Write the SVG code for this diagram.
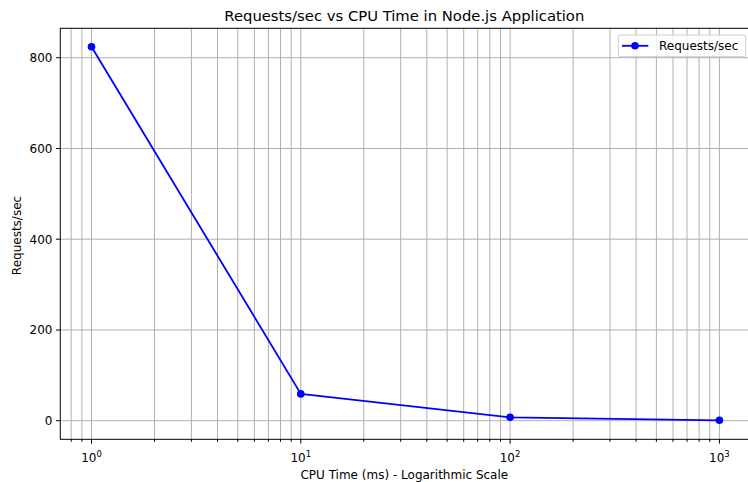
<svg xmlns="http://www.w3.org/2000/svg" width="748" height="482" viewBox="0 0 748 482">
  <style>
    text { font-family: "DejaVu Sans", "Liberation Sans", sans-serif; fill: #000; }
    .tick { font-size: 12px; }
    .grid line { stroke: #b0b0b0; stroke-width: 1; }
    .ticks line { stroke: #000; stroke-width: 1; }
    .spine { stroke: #000; stroke-width: 1; fill: none; }
    .series { stroke: #0000ff; stroke-width: 1.8; fill: none; stroke-linejoin: round; }
    .dot { fill: #0000ff; }
  </style>
  <rect width="748" height="482" fill="#fff"/>

  <!-- grid: log-scale vertical lines, major and minor -->
  <g class="grid">
    <line x1="71.2" y1="28.3" x2="71.2" y2="439.3"/>
    <line x1="81.9" y1="28.3" x2="81.9" y2="439.3"/>
    <line x1="91.5" y1="28.3" x2="91.5" y2="439.3"/>
    <line x1="154.5" y1="28.3" x2="154.5" y2="439.3"/>
    <line x1="191.4" y1="28.3" x2="191.4" y2="439.3"/>
    <line x1="217.5" y1="28.3" x2="217.5" y2="439.3"/>
    <line x1="237.8" y1="28.3" x2="237.8" y2="439.3"/>
    <line x1="254.4" y1="28.3" x2="254.4" y2="439.3"/>
    <line x1="268.4" y1="28.3" x2="268.4" y2="439.3"/>
    <line x1="280.5" y1="28.3" x2="280.5" y2="439.3"/>
    <line x1="291.2" y1="28.3" x2="291.2" y2="439.3"/>
    <line x1="300.8" y1="28.3" x2="300.8" y2="439.3"/>
    <line x1="363.8" y1="28.3" x2="363.8" y2="439.3"/>
    <line x1="400.7" y1="28.3" x2="400.7" y2="439.3"/>
    <line x1="426.8" y1="28.3" x2="426.8" y2="439.3"/>
    <line x1="447.1" y1="28.3" x2="447.1" y2="439.3"/>
    <line x1="463.7" y1="28.3" x2="463.7" y2="439.3"/>
    <line x1="477.7" y1="28.3" x2="477.7" y2="439.3"/>
    <line x1="489.8" y1="28.3" x2="489.8" y2="439.3"/>
    <line x1="500.5" y1="28.3" x2="500.5" y2="439.3"/>
    <line x1="510.1" y1="28.3" x2="510.1" y2="439.3"/>
    <line x1="573.1" y1="28.3" x2="573.1" y2="439.3"/>
    <line x1="610.0" y1="28.3" x2="610.0" y2="439.3"/>
    <line x1="636.1" y1="28.3" x2="636.1" y2="439.3"/>
    <line x1="656.4" y1="28.3" x2="656.4" y2="439.3"/>
    <line x1="673.0" y1="28.3" x2="673.0" y2="439.3"/>
    <line x1="687.0" y1="28.3" x2="687.0" y2="439.3"/>
    <line x1="699.1" y1="28.3" x2="699.1" y2="439.3"/>
    <line x1="709.8" y1="28.3" x2="709.8" y2="439.3"/>
    <line x1="719.4" y1="28.3" x2="719.4" y2="439.3"/>
    <!-- horizontal lines at 0..800 -->
    <line x1="60.3" y1="420.7" x2="751" y2="420.7"/>
    <line x1="60.3" y1="330.0" x2="751" y2="330.0"/>
    <line x1="60.3" y1="239.2" x2="751" y2="239.2"/>
    <line x1="60.3" y1="148.5" x2="751" y2="148.5"/>
    <line x1="60.3" y1="57.7" x2="751" y2="57.7"/>
  </g>

  <!-- tick marks -->
  <g class="ticks">
    <line x1="91.5" y1="439.3" x2="91.5" y2="443.6"/>
    <line x1="300.8" y1="439.3" x2="300.8" y2="443.6"/>
    <line x1="510.1" y1="439.3" x2="510.1" y2="443.6"/>
    <line x1="719.4" y1="439.3" x2="719.4" y2="443.6"/>
    <line x1="71.2" y1="439.3" x2="71.2" y2="441.8"/>
    <line x1="81.9" y1="439.3" x2="81.9" y2="441.8"/>
    <line x1="154.5" y1="439.3" x2="154.5" y2="441.8"/>
    <line x1="191.4" y1="439.3" x2="191.4" y2="441.8"/>
    <line x1="217.5" y1="439.3" x2="217.5" y2="441.8"/>
    <line x1="237.8" y1="439.3" x2="237.8" y2="441.8"/>
    <line x1="254.4" y1="439.3" x2="254.4" y2="441.8"/>
    <line x1="268.4" y1="439.3" x2="268.4" y2="441.8"/>
    <line x1="280.5" y1="439.3" x2="280.5" y2="441.8"/>
    <line x1="291.2" y1="439.3" x2="291.2" y2="441.8"/>
    <line x1="363.8" y1="439.3" x2="363.8" y2="441.8"/>
    <line x1="400.7" y1="439.3" x2="400.7" y2="441.8"/>
    <line x1="426.8" y1="439.3" x2="426.8" y2="441.8"/>
    <line x1="447.1" y1="439.3" x2="447.1" y2="441.8"/>
    <line x1="463.7" y1="439.3" x2="463.7" y2="441.8"/>
    <line x1="477.7" y1="439.3" x2="477.7" y2="441.8"/>
    <line x1="489.8" y1="439.3" x2="489.8" y2="441.8"/>
    <line x1="500.5" y1="439.3" x2="500.5" y2="441.8"/>
    <line x1="573.1" y1="439.3" x2="573.1" y2="441.8"/>
    <line x1="610.0" y1="439.3" x2="610.0" y2="441.8"/>
    <line x1="636.1" y1="439.3" x2="636.1" y2="441.8"/>
    <line x1="656.4" y1="439.3" x2="656.4" y2="441.8"/>
    <line x1="673.0" y1="439.3" x2="673.0" y2="441.8"/>
    <line x1="687.0" y1="439.3" x2="687.0" y2="441.8"/>
    <line x1="699.1" y1="439.3" x2="699.1" y2="441.8"/>
    <line x1="709.8" y1="439.3" x2="709.8" y2="441.8"/>
    <line x1="56" y1="420.7" x2="60.3" y2="420.7"/>
    <line x1="56" y1="330.0" x2="60.3" y2="330.0"/>
    <line x1="56" y1="239.2" x2="60.3" y2="239.2"/>
    <line x1="56" y1="148.5" x2="60.3" y2="148.5"/>
    <line x1="56" y1="57.7" x2="60.3" y2="57.7"/>
  </g>

  <!-- axes frame -->
  <rect class="spine" x="60.3" y="28.3" width="690.7" height="411"/>

  <!-- tick labels -->
  <g class="tick" text-anchor="end">
    <text x="52.5" y="425">0</text>
    <text x="52.5" y="334.3">200</text>
    <text x="52.5" y="243.5">400</text>
    <text x="52.5" y="152.8">600</text>
    <text x="52.5" y="62">800</text>
  </g>
  <g class="tick" text-anchor="middle">
    <text x="91.5" y="461.5">10<tspan font-size="8.5px" dy="-5">0</tspan></text>
    <text x="300.8" y="461.5">10<tspan font-size="8.5px" dy="-5">1</tspan></text>
    <text x="510.1" y="461.5">10<tspan font-size="8.5px" dy="-5">2</tspan></text>
    <text x="719.4" y="461.5">10<tspan font-size="8.5px" dy="-5">3</tspan></text>
  </g>

  <!-- titles -->
  <text x="404.3" y="21" font-size="14.8px" text-anchor="middle">Requests/sec vs CPU Time in Node.js Application</text>
  <text x="404.3" y="479" font-size="12px" text-anchor="middle">CPU Time (ms) - Logarithmic Scale</text>
  <text transform="translate(21,235.5) rotate(-90)" font-size="12px" text-anchor="middle">Requests/sec</text>

  <!-- data series -->
  <g id="series">
    <polyline class="series" points="91.5,46.8 300.8,393.9 510.1,417.3 719.4,420.3"/>
    <circle class="dot" cx="91.5" cy="46.8" r="3.8"/>
    <circle class="dot" cx="300.8" cy="393.9" r="3.8"/>
    <circle class="dot" cx="510.1" cy="417.3" r="3.8"/>
    <circle class="dot" cx="719.4" cy="420.3" r="3.8"/>
  </g>

  <!-- legend -->
  <g id="legend">
    <rect x="618.3" y="35" width="127.4" height="21.7" rx="2.5" fill="#fff" fill-opacity="0.8" stroke="#cccccc" stroke-width="1"/>
    <line x1="622" y1="45.8" x2="648.3" y2="45.8" stroke="#0000ff" stroke-width="1.8"/>
    <circle class="dot" cx="635" cy="45.8" r="3.8"/>
    <text x="659" y="50" font-size="12px">Requests/sec</text>
  </g>
</svg>
